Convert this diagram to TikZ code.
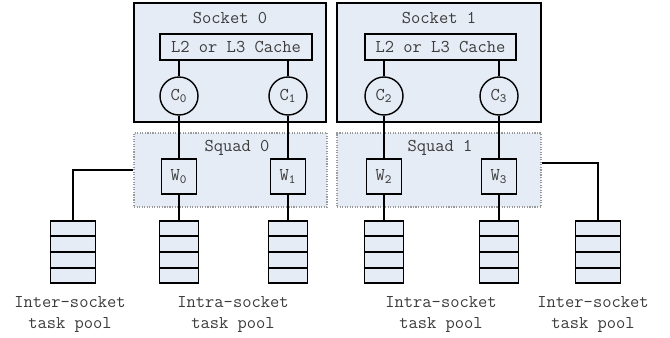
\documentclass[tikz,border=0pt]{standalone}
\usepackage{fontspec}
\usetikzlibrary{calc}

\definecolor{boxfill}{RGB}{230,236,246}
\definecolor{textgray}{RGB}{60,60,60}
%% One pixel of the layout grid.
\newcommand\pxu{0.025cm}

\begin{document}
\begin{tikzpicture}[x=0.025cm,y=-0.025cm,
  every node/.style={font=\ttfamily\fontsize{12.8}{15}\selectfont, text=textgray},
  socketbox/.style={draw, line width=1pt, fill=boxfill, inner sep=0pt, minimum height=119*\pxu},
  squadbox/.style={draw=gray!80, densely dotted, line width=0.8pt, fill=boxfill, inner sep=0pt, minimum height=74*\pxu},
  cachebox/.style={draw, line width=1pt, fill=boxfill, inner sep=0pt, minimum width=151*\pxu, minimum height=26*\pxu},
  core/.style={draw, circle, line width=1pt, fill=boxfill, inner sep=0pt, minimum size=38*\pxu},
  worker/.style={draw, line width=1pt, fill=boxfill, inner sep=0pt, minimum size=35*\pxu},
  pool/.style={draw, line width=1.2pt, fill=boxfill, inner sep=0pt, minimum height=62*\pxu},
  link/.style={line width=1pt},
  poollabel/.style={align=center}]
  %% Height of the picture rows (in pixels of the grid).
  \def\coreY{96}
  \def\workerY{176.5}
  \def\poolY{252}
  \def\labelY{314.5}

  \useasboundingbox (0,0) rectangle (670,337);

  %% The two sockets with their shared caches.
  \node[socketbox, minimum width=192*\pxu] (socket0) at (230,62.5) {};
  \node[socketbox, minimum width=204*\pxu] (socket1) at (439,62.5) {};
  \node (sockettext0) at (230,18) {Socket 0};
  \node (sockettext1) at (439,18) {Socket 1};
  \node[cachebox, minimum width=152*\pxu] (cache0) at (236,47) {L2 or L3 Cache};
  \node[cachebox] (cache1) at (440.5,47) {L2 or L3 Cache};

  %% The two squads of workers.
  \node[squadbox, minimum width=193*\pxu] (squad0) at (230.5,170) {};
  \node[squadbox, minimum width=204*\pxu] (squad1) at (439,170) {};
  \node (squadtext0) at (237,148) {Squad 0};
  \node (squadtext1) at (440,148) {Squad 1};

  %% Cores, workers and their own task pools.
  \foreach \i/\x in {0/179,1/288,2/384,3/499} {
    \node[core] (c\i) at (\x,\coreY) {C\textsubscript{\i}};
    \node[worker] (w\i) at (\x,\workerY) {W\textsubscript{\i}};
    \node[pool, minimum width=39*\pxu] (q\i) at (\x,\poolY) {};
    \foreach \k in {1,2,3}
      \draw[pool] ($(q\i.north west)!\k/4!(q\i.south west)$) -- ($(q\i.north east)!\k/4!(q\i.south east)$);
    \draw[link] (c\i) -- (w\i);
    \draw[link] (w\i) -- (q\i);
  }

  %% The task pools shared between sockets.
  \node[pool, minimum width=45*\pxu] (interq0) at (73,\poolY) {};
  \node[pool, minimum width=45*\pxu] (interq1) at (598,\poolY) {};
  \foreach \i in {0,1}
    \foreach \k in {1,2,3}
      \draw[pool] ($(interq\i.north west)!\k/4!(interq\i.south west)$) -- ($(interq\i.north east)!\k/4!(interq\i.south east)$);

  %% Cores hang off the caches.
  \draw[link] (c0 |- cache0.south) -- (c0);
  \draw[link] (c1 |- cache0.south) -- (c1);
  \draw[link] (c2 |- cache1.south) -- (c2);
  \draw[link] (c3 |- cache1.south) -- (c3);

  %% Squads reach the inter-socket pools.
  \draw[link] (squad0.west) -| (interq0);
  \draw[link] ([yshift=0.175cm]squad1.east) -| (interq1);

  %% Captions under the pools.
  \node[poollabel] (interlabel0) at (70,\labelY) {Inter-socket\\task pool};
  \node[poollabel] (intralabel0) at (233,\labelY) {Intra-socket\\task pool};
  \node[poollabel] (intralabel1) at (441,\labelY) {Intra-socket\\task pool};
  \node[poollabel] (interlabel1) at (593,\labelY) {Inter-socket\\task pool};
\end{tikzpicture}
\end{document}
